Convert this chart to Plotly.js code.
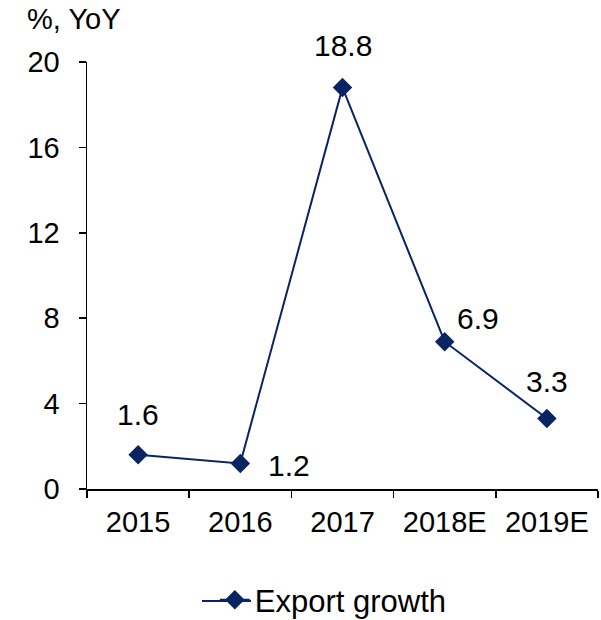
<!DOCTYPE html>
<html>
<head>
<meta charset="utf-8">
<script src="https://cdn.plot.ly/plotly-3.0.1.min.js"></script>
<style>html,body{margin:0;padding:0;background:#fff;}#chart{width:601px;height:620px;}</style>
</head>
<body>
<div id="chart"></div>
<script>
const categories = ["2015", "2016", "2017", "2018E", "2019E"];
const exportGrowth = [1.6, 1.2, 18.8, 6.9, 3.3];
const valueLabels = ["1.6", "1.2", "18.8", "6.9", "3.3"];
const yTicks = [0, 4, 8, 12, 16, 20];
const seriesName = "Export growth";
const unitLabel = "%, YoY";

const navy = "#0a2463";
const font = "Liberation Sans, Arial, sans-serif";

// label offsets (px) per point: [xshift, yshift]
const labelOffsets = [[0, 40], [49, -2], [0, 42], [33, 23], [0, 37]];

const trace = {
  x: categories,
  y: exportGrowth,
  type: "scatter",
  mode: "lines+markers",
  name: seriesName,
  line: {color: navy, width: 2},
  marker: {symbol: "diamond", size: 15, color: navy},
  cliponaxis: false
};

const annotations = categories.map((c, i) => ({
  x: i, y: exportGrowth[i], xref: "x", yref: "y",
  text: valueLabels[i], showarrow: false,
  xshift: labelOffsets[i][0], yshift: labelOffsets[i][1],
  font: {family: font, size: 30, color: "#000"}
}));
annotations.push({
  x: (25 - 87) / 511, y: 1 + (62 - 19) / 427, xref: "paper", yref: "paper", text: unitLabel,
  showarrow: false, xanchor: "left", yanchor: "middle",
  font: {family: font, size: 29, color: "#000"}
});

// paper-pixel helpers for the legend key line (longer key as in the reference)
const px = v => (v - 87) / 511;
const py = v => (489 - v) / 427;

const layout = {
  width: 601, height: 620,
  margin: {l: 87, r: 3, t: 62, b: 131, autoexpand: false},
  paper_bgcolor: "#fff", plot_bgcolor: "#fff",
  font: {family: font, size: 29, color: "#000"},
  showlegend: true,
  legend: {
    orientation: "h", x: 0.482, xanchor: "center", y: py(600), yanchor: "middle",
    bgcolor: "rgba(0,0,0,0)",
    font: {family: font, size: 31, color: "#000"}
  },
  shapes: [{
    type: "line", xref: "paper", yref: "paper",
    x0: px(202), x1: px(251), y0: py(601), y1: py(601),
    line: {color: navy, width: 2}, layer: "above"
  }],
  xaxis: {
    type: "category", range: [-0.5, 4.5],
    showline: true, linecolor: "#000", linewidth: 1.5,
    ticks: "outside", ticklen: 7, tickcolor: "#000", tickwidth: 1.5,
    tickson: "boundaries", showgrid: false, zeroline: false,
    ticklabelstandoff: 7,
    tickfont: {family: font, size: 29, color: "#000"}
  },
  yaxis: {
    range: [0, 20], tickvals: yTicks,
    showline: true, linecolor: "#000", linewidth: 1.5,
    ticks: "outside", ticklen: 7, tickcolor: "#000", tickwidth: 1.5,
    showgrid: false, zeroline: false,
    ticklabelstandoff: 13,
    tickfont: {family: font, size: 29, color: "#000"}
  },
  annotations: annotations
};

Plotly.newPlot("chart", [trace], layout, {displayModeBar: false, staticPlot: true});
</script>
</body>
</html>
